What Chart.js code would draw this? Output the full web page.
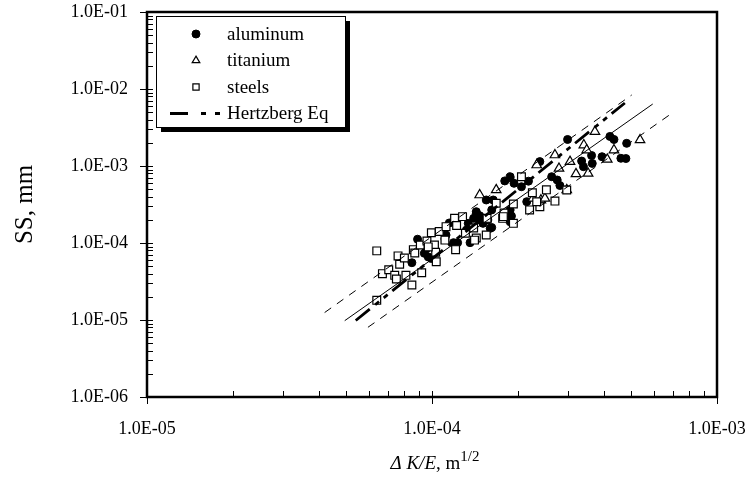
<!DOCTYPE html>
<html>
<head>
<meta charset="utf-8">
<script src="https://cdn.jsdelivr.net/npm/chart.js@4.4.0/dist/chart.umd.min.js"></script>
<style>
  html, body { margin: 0; padding: 0; background: #fff; }
</style>
</head>
<body>
<canvas id="chart" width="751" height="482"></canvas>
<script>
// valores (ΔK/E em m^1/2, SS em mm)
const aluminumX = [8.9e-5, 8.5e-5, 9.4e-5, 9.7e-5, 9.55e-5, 9.95e-5, 1.12e-4, 1.11e-4, 1.15e-4, 1.19e-4,
  1.23e-4, 1.36e-4, 1.32e-4, 1.34e-4, 1.43e-4, 1.40e-4, 1.47e-4, 1.51e-4, 1.62e-4, 1.55e-4,
  1.64e-4, 2.39e-4, 1.88e-4, 1.80e-4, 1.94e-4, 2.06e-4, 2.18e-4, 2.63e-4, 2.75e-4, 2.81e-4,
  2.99e-4, 3.35e-4, 3.40e-4, 3.65e-4, 3.63e-4, 3.95e-4, 4.21e-4, 4.35e-4, 4.82e-4, 4.60e-4,
  4.79e-4, 1.88e-4, 1.90e-4, 1.88e-4, 1.62e-4, 1.57e-4, 1.43e-4, 1.47e-4, 1.60e-4, 2.15e-4];
const aluminumY = [1.12e-4, 5.55e-5, 7.35e-5, 6.6e-5, 8.4e-5, 6.3e-5, 1.27e-4, 1.13e-4, 1.82e-4, 1.01e-4,
  1.01e-4, 1.01e-4, 1.47e-4, 1.80e-4, 2.55e-4, 2.09e-4, 2.26e-4, 1.80e-4, 1.59e-4, 3.62e-4,
  3.62e-4, 1.14e-3, 7.26e-4, 6.4e-4, 5.96e-4, 5.38e-4, 6.35e-4, 7.26e-4, 6.58e-4, 5.58e-4,
  2.21e-3, 1.16e-3, 9.8e-4, 1.08e-3, 1.37e-3, 1.32e-3, 2.42e-3, 2.21e-3, 1.97e-3, 1.26e-3,
  1.25e-3, 2.69e-4, 2.24e-4, 1.89e-4, 2.69e-4, 1.99e-4, 2.43e-4, 1.99e-4, 1.55e-4, 3.44e-4];

const titaniumX = [1.47e-4, 1.68e-4, 2.33e-4, 2.70e-4, 2.79e-4, 3.05e-4, 3.20e-4, 2.97e-4, 3.41e-4,
  3.49e-4, 3.53e-4, 3.73e-4, 4.35e-4, 4.12e-4, 5.37e-4, 2.41e-4, 2.26e-4, 2.49e-4];
const titaniumY = [4.2e-4, 4.9e-4, 1.03e-3, 1.39e-3, 9.3e-4, 1.14e-3, 7.9e-4, 4.9e-4, 1.87e-3,
  1.61e-3, 8.0e-4, 2.79e-3, 1.61e-3, 1.22e-3, 2.18e-3, 3.6e-4, 3.8e-4, 3.8e-4];

const steelsX = [6.4e-5, 6.4e-5, 7.6e-5, 7.7e-5, 6.7e-5, 7.05e-5, 7.4e-5, 7.5e-5, 8.1e-5, 8.5e-5,
  9.2e-5, 8.6e-5, 8.7e-5, 9.1e-5, 9.6e-5, 9.95e-5, 1.02e-4, 1.03e-4, 1.035e-4, 1.06e-4,
  1.12e-4, 1.20e-4, 1.28e-4, 1.22e-4, 1.31e-4, 1.21e-4, 1.40e-4, 1.43e-4, 1.55e-4, 1.68e-4,
  1.77e-4, 1.79e-4, 2.06e-4, 2.25e-4, 2.52e-4, 2.70e-4, 2.39e-4, 2.20e-4, 1.93e-4, 1.78e-4,
  1.93e-4, 2.33e-4, 2.97e-4, 1.41e-4, 9.7e-5, 1.11e-4, 8.0e-5, 1.56e-4];
const steelsY = [1.8e-5, 7.9e-5, 6.8e-5, 5.3e-5, 4.0e-5, 4.5e-5, 3.8e-5, 3.4e-5, 3.8e-5, 2.85e-5,
  4.1e-5, 8.2e-5, 7.4e-5, 9.4e-5, 1.06e-4, 1.36e-4, 9.4e-5, 7.6e-5, 5.7e-5, 1.41e-4,
  1.63e-4, 2.09e-4, 2.20e-4, 1.69e-4, 1.34e-4, 8.2e-5, 1.57e-4, 1.16e-4, 1.27e-4, 3.28e-4,
  2.09e-4, 2.45e-4, 7.26e-4, 4.5e-4, 4.9e-4, 3.5e-4, 2.96e-4, 2.69e-4, 3.21e-4, 2.20e-4,
  1.80e-4, 3.44e-4, 4.88e-4, 1.09e-4, 8.9e-5, 1.09e-4, 6.4e-5, 2.09e-4];

// retas de ajuste (extremos)
const fitX = [4.94e-5, 5.95e-4];
const fitY = [9.8e-6, 6.38e-3];
const upperX = [4.2e-5, 5.02e-4];
const upperY = [1.25e-5, 8.36e-3];
const lowerX = [5.96e-5, 7.02e-4];
const lowerY = [8.04e-6, 4.98e-3];
const hertzbergX = [5.4e-5, 4.75e-4];
const hertzbergY = [9.86e-6, 6.58e-3];

const xTicks = [1e-5, 1e-4, 1e-3];
const yTicks = [1e-6, 1e-5, 1e-4, 1e-3, 1e-2, 1e-1];
const seriesNames = ["aluminum", "titanium", "steels", "Hertzberg Eq"];
const yTitle = "SS, mm";
const xTitleParts = ["\u0394 K/E", ", m", "1/2"];

const FONT = '"Liberation Serif", "Times New Roman", serif';
const HERTZ_DASH = [18, 7, 5, 6, 5, 6];

const pts = (xs, ys) => xs.map((x, i) => ({ x, y: ys[i] }));
const sci = (v) => {
  const e = Math.round(Math.log10(v));
  return "1.0E" + (e < 0 ? "-" : "+") + String(Math.abs(e)).padStart(2, "0");
};

// moldura e marcas dos eixos
const frameTicks = {
  id: "frameTicks",
  afterDraw(chart) {
    const { ctx, chartArea: a, scales } = chart;
    const x = scales.x, y = scales.y;
    ctx.save();
    ctx.strokeStyle = "#000";
    ctx.lineWidth = 1;
    ctx.beginPath();
    for (let e = -6; e < -1; e++) {
      for (let m = 2; m <= 9; m++) {
        const py = Math.round(y.getPixelForValue(m * Math.pow(10, e))) + 0.5;
        ctx.moveTo(a.left, py);
        ctx.lineTo(a.left + 6, py);
      }
    }
    yTicks.forEach((v) => {
      const py = Math.round(y.getPixelForValue(v)) + 0.5;
      ctx.moveTo(a.left - 7, py);
      ctx.lineTo(a.left + 6, py);
    });
    for (let e = -5; e < -3; e++) {
      for (let m = 2; m <= 9; m++) {
        const px = Math.round(x.getPixelForValue(m * Math.pow(10, e))) + 0.5;
        ctx.moveTo(px, a.bottom);
        ctx.lineTo(px, a.bottom - 6);
      }
    }
    xTicks.forEach((v) => {
      const px = Math.round(x.getPixelForValue(v)) + 0.5;
      ctx.moveTo(px, a.bottom + 7);
      ctx.lineTo(px, a.bottom - 6);
    });
    ctx.stroke();
    ctx.lineWidth = 2.5;
    ctx.strokeRect(a.left, a.top, a.right - a.left, a.bottom - a.top);
    ctx.restore();
  },
};

// título do eixo x com itálico e expoente
const xTitle = {
  id: "xTitle",
  afterDraw(chart) {
    const { ctx, chartArea: a } = chart;
    const fonts = ["italic 19px " + FONT, "19px " + FONT, "15px " + FONT];
    const lifts = [0, 0, -8];
    ctx.save();
    ctx.fillStyle = "#000";
    ctx.textBaseline = "alphabetic";
    let total = 0;
    const widths = xTitleParts.map((t, i) => {
      ctx.font = fonts[i];
      const w = ctx.measureText(t).width;
      total += w;
      return w;
    });
    let cx = (a.left + a.right) / 2 + 3 - total / 2;
    xTitleParts.forEach((t, i) => {
      ctx.font = fonts[i];
      ctx.fillText(t, cx, 469 + lifts[i]);
      cx += widths[i];
    });
    ctx.restore();
  },
};

// legenda com sombra
const legendBox = {
  id: "legendBox",
  afterDraw(chart) {
    const ctx = chart.ctx;
    const bx = 156, by = 16, bw = 189, bh = 111;
    ctx.save();
    ctx.fillStyle = "#000";
    ctx.fillRect(bx + 5, by + 5, bw, bh);
    ctx.fillStyle = "#fff";
    ctx.fillRect(bx, by, bw, bh);
    ctx.strokeStyle = "#000";
    ctx.lineWidth = 1;
    ctx.strokeRect(bx + 0.5, by + 0.5, bw, bh);
    ctx.font = "19px " + FONT;
    ctx.textBaseline = "middle";
    chart.data.datasets
      .filter((d) => d.label)
      .forEach((ds, i) => {
        const yy = by + 18 + i * 26.5;
        ctx.strokeStyle = "#000";
        ctx.fillStyle = ds.backgroundColor;
        if (ds.showLine) {
          ctx.beginPath();
          ctx.lineWidth = 3;
          ctx.setLineDash([18, 13, 5, 9, 5, 30]);
          ctx.moveTo(170, yy);
          ctx.lineTo(221, yy);
          ctx.stroke();
          ctx.setLineDash([]);
        } else {
          ctx.lineWidth = ds.borderWidth;
          Chart.helpers.drawPoint(ctx, {
            pointStyle: ds.pointStyle,
            radius: ds.pointStyle === "circle" ? ds.pointRadius : ds.pointRadius * 0.8,
            borderWidth: ds.borderWidth,
            rotation: 0,
          }, 196, yy);
        }
        ctx.fillStyle = "#000";
        ctx.fillText(ds.label, 227, yy + 1);
      });
    ctx.restore();
  },
};

const lineSet = (xs, ys, width, dash, label) => ({
  label,
  data: pts(xs, ys),
  showLine: true,
  borderColor: "#000",
  backgroundColor: "#000",
  borderWidth: width,
  borderDash: dash,
  pointRadius: 0,
  order: 0,
});

const ctx = document.getElementById("chart").getContext("2d");
new Chart(ctx, {
  type: "scatter",
  data: {
    datasets: [
      {
        label: seriesNames[0],
        data: pts(aluminumX, aluminumY),
        pointStyle: "circle",
        pointRadius: 4,
        backgroundColor: "#000",
        borderColor: "#000",
        borderWidth: 1,
        order: 3,
      },
      {
        label: seriesNames[1],
        data: pts(titaniumX, titaniumY),
        pointStyle: "triangle",
        pointRadius: 5.5,
        backgroundColor: "#fff",
        borderColor: "#000",
        borderWidth: 1.2,
        order: 2,
      },
      {
        label: seriesNames[2],
        data: pts(steelsX, steelsY),
        pointStyle: "rect",
        pointRadius: 5.5,
        backgroundColor: "#fff",
        borderColor: "#000",
        borderWidth: 1.2,
        order: 1,
      },
      lineSet(hertzbergX, hertzbergY, 2.8, HERTZ_DASH, seriesNames[3]),
      lineSet(fitX, fitY, 1, [], ""),
      lineSet(upperX, upperY, 1, [8, 7], ""),
      lineSet(lowerX, lowerY, 1, [8, 7], ""),
    ],
  },
  options: {
    responsive: false,
    animation: false,
    layout: { padding: { top: 12, right: 34, left: 0, bottom: 0 } },
    plugins: { legend: { display: false }, tooltip: { enabled: false } },
    scales: {
      x: {
        type: "logarithmic",
        min: 1e-5,
        max: 1e-3,
        afterBuildTicks: (s) => { s.ticks = xTicks.map((v) => ({ value: v })); },
        afterFit: (s) => {
          s.height = 85;
          s.paddingLeft = 0;
          s.paddingRight = 0;
        },
        grid: { display: false, drawTicks: false },
        border: { display: false },
        ticks: {
          callback: (v) => sci(v),
          color: "#000",
          font: { family: FONT, size: 18 },
          padding: 21,
          maxRotation: 0,
          autoSkip: false,
        },
      },
      y: {
        type: "logarithmic",
        min: 1e-6,
        max: 1e-1,
        afterBuildTicks: (s) => { s.ticks = yTicks.map((v) => ({ value: v })); },
        afterFit: (s) => {
          s.width = 147;
          s.paddingTop = 0;
          s.paddingBottom = 0;
        },
        grid: { display: false, drawTicks: false },
        border: { display: false },
        title: {
          display: true,
          text: yTitle,
          color: "#000",
          font: { family: FONT, size: 25 },
          padding: { top: 10, bottom: 0 },
        },
        ticks: {
          callback: (v) => sci(v),
          color: "#000",
          font: { family: FONT, size: 18 },
          padding: 19,
          autoSkip: false,
        },
      },
    },
  },
  plugins: [frameTicks, xTitle, legendBox],
});
</script>
</body>
</html>
